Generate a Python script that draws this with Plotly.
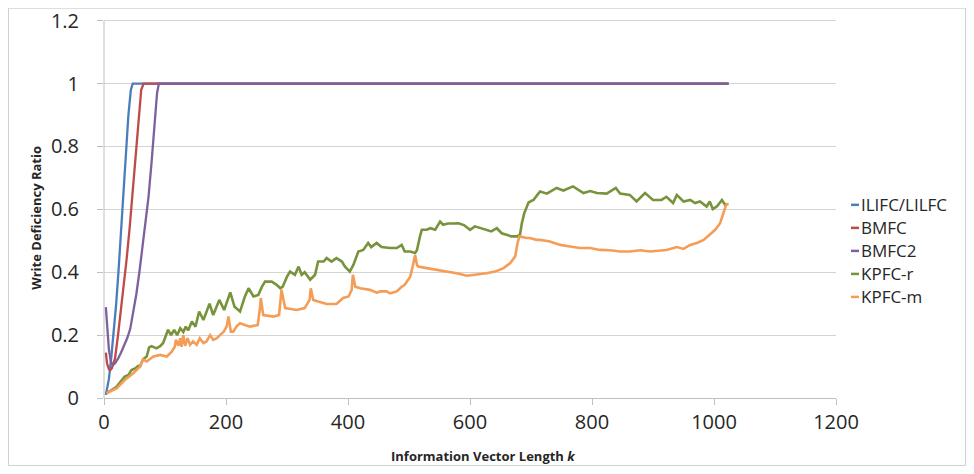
import plotly.graph_objects as go

# ---------------- data ----------------
k_ilifc = [3, 8, 12, 16, 20, 24, 28, 32, 36, 40, 44, 47, 1024]
y_ilifc = [0.01, 0.06, 0.13, 0.21, 0.30, 0.41, 0.53, 0.66, 0.79, 0.90, 0.98, 1.0, 1.0]

k_bmfc = [3, 5, 8, 10, 13, 18, 23, 28, 33, 37, 42, 47, 52, 57, 61, 65, 1024]
y_bmfc = [0.144, 0.11, 0.092, 0.088, 0.095, 0.125, 0.20, 0.28, 0.36, 0.44, 0.54, 0.66, 0.79, 0.91, 0.98, 1.0, 1.0]

k_bmfc2 = [3, 5, 8, 11, 14, 18, 23, 28, 33, 38, 43, 48, 53, 58, 63, 68, 73, 78, 83, 87, 90, 1024]
y_bmfc2 = [0.289, 0.22, 0.155, 0.118, 0.105, 0.11, 0.125, 0.145, 0.165, 0.19, 0.22, 0.27, 0.33, 0.40,
           0.48, 0.56, 0.64, 0.75, 0.88, 0.97, 1.0, 1.0]

k_kpfc_r = [4, 20, 34, 40, 45, 51, 56, 59, 64, 70, 74, 78, 86, 92, 97, 105, 110, 115, 120, 125, 130, 134,
            138, 144, 150, 156, 163, 173, 179, 189, 197, 207, 214, 223, 231, 237, 245, 253, 259, 264, 275,
            283, 289, 293, 300, 305, 313, 319, 324, 329, 338, 346, 351, 360, 365, 373, 381, 390, 395, 401,
            403, 409, 417, 425, 433, 438, 447, 455, 463, 469, 480, 488, 493, 502, 510, 513, 518, 521, 529,
            535, 543, 551, 556, 564, 572, 581, 590, 600, 608, 617, 627, 635, 644, 652, 660, 668, 677, 682,
            685, 689, 696, 704, 712, 715, 726, 742, 753, 769, 786, 797, 808, 824, 839, 846, 862, 873, 887,
            900, 914, 922, 933, 939, 950, 961, 969, 977, 988, 993, 998, 1005, 1013, 1018, 1022]
y_kpfc_r = [0.015, 0.035, 0.068, 0.073, 0.089, 0.094, 0.102, 0.100, 0.123, 0.132, 0.161, 0.165, 0.158,
            0.165, 0.175, 0.217, 0.200, 0.217, 0.200, 0.222, 0.210, 0.227, 0.215, 0.243, 0.227, 0.275,
            0.248, 0.300, 0.264, 0.312, 0.280, 0.336, 0.290, 0.275, 0.323, 0.349, 0.323, 0.328, 0.354,
            0.370, 0.370, 0.360, 0.349, 0.354, 0.386, 0.402, 0.392, 0.418, 0.392, 0.400, 0.376, 0.392,
            0.434, 0.434, 0.445, 0.434, 0.445, 0.434, 0.418, 0.408, 0.402, 0.424, 0.466, 0.471, 0.493,
            0.480, 0.493, 0.480, 0.477, 0.477, 0.477, 0.487, 0.466, 0.466, 0.461, 0.470, 0.514, 0.535,
            0.535, 0.540, 0.535, 0.561, 0.551, 0.555, 0.555, 0.556, 0.550, 0.535, 0.546, 0.540, 0.535,
            0.530, 0.540, 0.524, 0.519, 0.514, 0.514, 0.520, 0.556, 0.588, 0.622, 0.630, 0.650, 0.657,
            0.650, 0.668, 0.660, 0.673, 0.652, 0.658, 0.652, 0.650, 0.668, 0.650, 0.646, 0.625, 0.652,
            0.630, 0.630, 0.640, 0.620, 0.646, 0.625, 0.630, 0.620, 0.625, 0.609, 0.625, 0.601, 0.610,
            0.630, 0.615, 0.616]

k_kpfc_m = [4, 21, 34, 48, 59, 64, 70, 81, 92, 103, 111, 116, 118, 122, 125, 127, 130, 133, 137, 141, 146,
            152, 157, 163, 168, 174, 179, 185, 190, 196, 201, 204, 208, 212, 217, 223, 239, 252, 256, 257,
            261, 278, 287, 290, 291, 297, 316, 329, 337, 339, 343, 351, 365, 381, 392, 401, 406, 408, 412,
            420, 436, 447, 453, 463, 469, 480, 488, 493, 502, 506, 510, 513, 515, 529, 545, 562, 578, 595,
            611, 627, 641, 655, 666, 674, 678, 681, 693, 698, 709, 715, 731, 748, 764, 780, 797, 813, 830,
            846, 862, 879, 895, 912, 922, 939, 950, 961, 972, 983, 993, 1002, 1010, 1015, 1020, 1024]
y_kpfc_m = [0.015, 0.031, 0.057, 0.079, 0.100, 0.123, 0.116, 0.132, 0.137, 0.132, 0.147, 0.163, 0.185,
            0.166, 0.190, 0.163, 0.200, 0.166, 0.190, 0.169, 0.180, 0.169, 0.190, 0.175, 0.180, 0.200,
            0.185, 0.190, 0.200, 0.210, 0.227, 0.259, 0.211, 0.211, 0.227, 0.238, 0.227, 0.232, 0.291,
            0.318, 0.264, 0.259, 0.264, 0.312, 0.344, 0.286, 0.280, 0.286, 0.312, 0.349, 0.312, 0.307,
            0.299, 0.299, 0.318, 0.323, 0.344, 0.392, 0.354, 0.349, 0.344, 0.335, 0.339, 0.339, 0.333,
            0.339, 0.354, 0.360, 0.386, 0.418, 0.455, 0.424, 0.418, 0.413, 0.408, 0.402, 0.397, 0.389,
            0.392, 0.397, 0.402, 0.413, 0.429, 0.450, 0.493, 0.514, 0.509, 0.509, 0.503, 0.503, 0.498,
            0.487, 0.482, 0.477, 0.477, 0.471, 0.470, 0.466, 0.466, 0.470, 0.466, 0.470, 0.471, 0.480,
            0.474, 0.487, 0.493, 0.503, 0.519, 0.535, 0.556, 0.588, 0.615, 0.618]

series_names = ["ILIFC/LILFC", "BMFC", "BMFC2", "KPFC-r", "KPFC-m"]
series_colors = ["#4A7EBB", "#BE4B48", "#7D60A0", "#77933C", "#F59D56"]

x_ticks = [0, 200, 400, 600, 800, 1000, 1200]
y_ticks = [0, 0.2, 0.4, 0.6, 0.8, 1, 1.2]
y_tick_text = ["0", "0.2", "0.4", "0.6", "0.8", "1", "1.2"]

# ---------------- figure ----------------
FONT = "Open Sans"
fig = go.Figure()
data = [(k_ilifc, y_ilifc), (k_bmfc, y_bmfc), (k_bmfc2, y_bmfc2), (k_kpfc_r, y_kpfc_r), (k_kpfc_m, y_kpfc_m)]
widths = [2.3, 2.3, 2.3, 2.6, 2.6]
for (xs, ys), name, col, w in zip(data, series_names, series_colors, widths):
    fig.add_trace(go.Scatter(x=xs, y=ys, mode="lines", name=name,
                             line=dict(color=col, width=w), showlegend=False))

# page has an 8px body margin; work in screen pixels and convert
OFF = 8
W, H = 974 - 2 * OFF, 474 - 2 * OFF
PL, PR = 104, 836          # x=0 and x=1200 in screen px
PB, P12 = 398, 21          # y=0 and y=1.2 in screen px
YMAX = 1.215
PT = PB - (PB - P12) * YMAX / 1.2   # top of plot area
L, T = PL - OFF, PT - OFF
R = W - (PR - OFF)
B = H - (PB - OFF)
pw, ph = PR - PL, PB - PT

def px_x(px):
    return (px - PL) / pw

def px_y(py):
    return (PB - py) / ph

AXIS_COL = "#BFBFBF"
shapes = []
annotations = []
# y axis line, only from 0 to the top tick
shapes.append(dict(type="line", xref="paper", yref="y", x0=0, x1=0, y0=y_ticks[0], y1=y_ticks[-1],
                   line=dict(color=AXIS_COL, width=1)))
# manual legend
leg_y = [205, 228, 251, 274, 297]
for name, col, py in zip(series_names, series_colors, leg_y):
    shapes.append(dict(type="line", xref="paper", yref="paper",
                       x0=px_x(851), x1=px_x(859), y0=px_y(py), y1=px_y(py),
                       line=dict(color=col, width=2.5)))
    annotations.append(dict(text=name, xref="paper", yref="paper", x=px_x(859.5), y=px_y(py),
                            xanchor="left", yanchor="middle", showarrow=False,
                            font=dict(family=FONT, size=17, color="#262626")))

# outer chart border
shapes.append(dict(type="rect", xref="paper", yref="paper", layer="below",
                   x0=px_x(8.5), x1=px_x(965.5), y0=px_y(465.5), y1=px_y(8.5),
                   line=dict(color="#D0D0D0", width=1)))

# axis titles
annotations.append(dict(text="<b>Write Deficiency Ratio</b>", xref="paper", yref="paper",
                        x=px_x(36), y=px_y(218), textangle=-90, showarrow=False,
                        xanchor="center", yanchor="middle",
                        font=dict(family=FONT, size=13, color="#262626")))
annotations.append(dict(text="<b>Information Vector Length <i>k</i></b>", xref="paper", yref="paper",
                        x=px_x(483), y=px_y(456), showarrow=False,
                        xanchor="center", yanchor="middle",
                        font=dict(family=FONT, size=13, color="#262626")))

fig.update_layout(
    width=W, height=H, autosize=False,
    margin=dict(l=L, r=R, t=T, b=B, pad=0, autoexpand=False),
    paper_bgcolor="white", plot_bgcolor="white",
    showlegend=False,
    shapes=shapes, annotations=annotations,
    font=dict(family=FONT, color="#262626"),
    xaxis=dict(range=[0, 1200], tickvals=x_ticks, showgrid=False, zeroline=False,
               showline=True, linecolor=AXIS_COL, linewidth=1, automargin=False,
               ticks="outside", ticklen=6, tickcolor=AXIS_COL,
               tickfont=dict(family=FONT, size=20, color="#262626")),
    yaxis=dict(range=[0, YMAX], tickvals=y_ticks, ticktext=y_tick_text,
               showgrid=True, gridcolor="#D4D4D4", gridwidth=1, automargin=False,
               zeroline=False, showline=False,
               ticks="outside", ticklen=6, tickcolor=AXIS_COL,
               ticklabelstandoff=14, ticklabeloverflow="allow",
               tickfont=dict(family=FONT, size=20, color="#262626")),
)

fig.write_html("out.html")
